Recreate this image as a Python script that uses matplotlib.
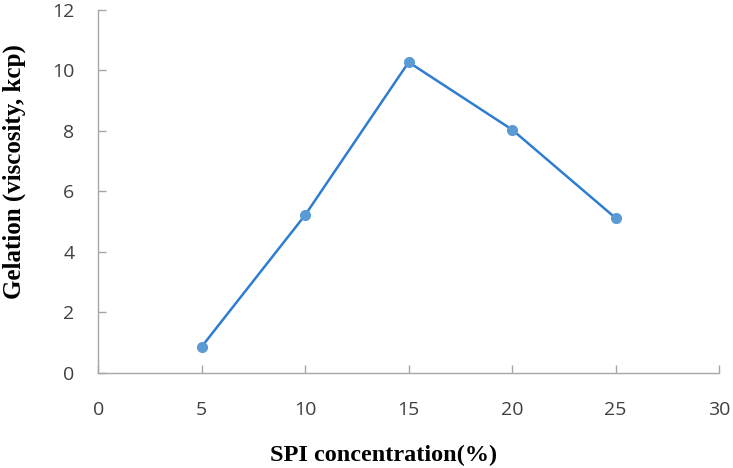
import matplotlib.pyplot as plt

# data
conc = [5, 10, 15, 20, 25]
gelation = [0.87, 5.22, 10.27, 8.04, 5.12]
xticks = [0, 5, 10, 15, 20, 25, 30]
yticks = [0, 2, 4, 6, 8, 10, 12]

fig = plt.figure(figsize=(7.33, 4.68), dpi=100)
ax = fig.add_axes([0.134, 0.203, 0.847, 0.776])

ax.plot(conc, gelation, color='#2E7DD1', lw=1.8, marker='o', ms=7,
        mfc='#5B9BD5', mec='#5B9BD5')

ax.set_xlim(0, 30)
ax.set_ylim(0, 12)
ax.set_xticks(xticks)
ax.set_yticks(yticks)

for s in ['top', 'right']:
    ax.spines[s].set_visible(False)
for s in ['left', 'bottom']:
    ax.spines[s].set_color('#A6A6A6')
    ax.spines[s].set_linewidth(1.0)

ax.tick_params(direction='in', length=6, width=1, color='#A6A6A6',
               labelsize=14, labelcolor='#404040')
ax.tick_params(axis='x', pad=20)
ax.tick_params(axis='y', pad=17)
for lab in ax.get_xticklabels() + ax.get_yticklabels():
    lab.set_family('Open Sans')

ax.set_xlabel('SPI concentration(%)', family='Liberation Serif', fontweight='bold',
              fontsize=17.5, va='center', ha='center')
ax.xaxis.set_label_coords(0.459, -0.226)
ax.set_ylabel('Gelation (viscosity, kcp)', family='Liberation Serif', fontweight='bold',
              fontsize=18, va='center', ha='center')
ax.yaxis.set_label_coords(-0.135, 0.554)

fig.savefig('out.png', dpi=100)
